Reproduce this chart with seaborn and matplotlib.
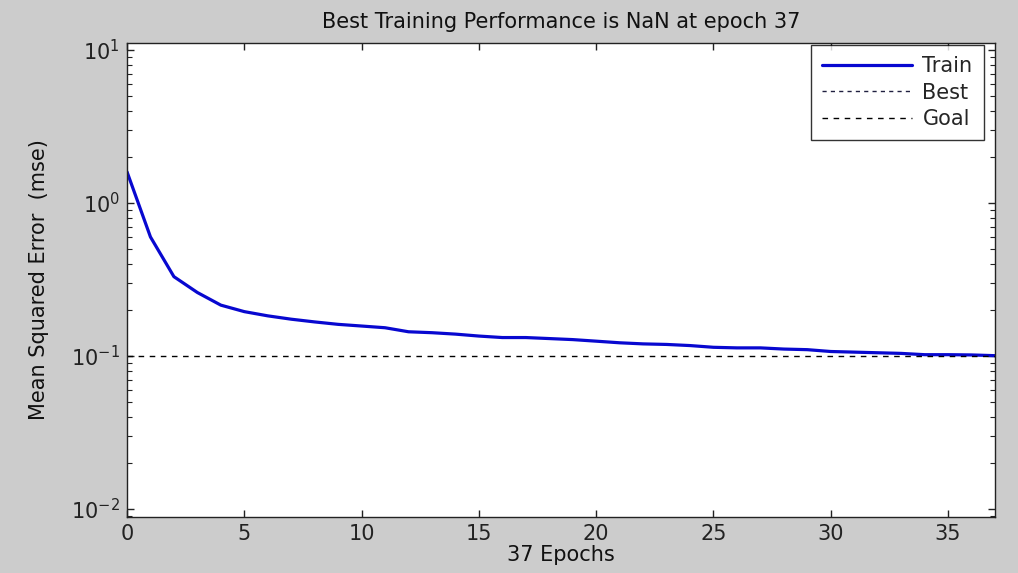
import numpy as np
import pandas as pd
import matplotlib
matplotlib.use("Agg")
import matplotlib.pyplot as plt
import seaborn as sns
from matplotlib.ticker import LogLocator, LogFormatterSciNotation, FixedLocator

# ---- data ----
epochs = list(range(0, 38))
train_mse = [1.60, 0.60, 0.33, 0.26, 0.215, 0.195, 0.183, 0.174, 0.167, 0.161,
             0.157, 0.153, 0.144, 0.142, 0.139, 0.135, 0.132, 0.132, 0.130, 0.128,
             0.125, 0.122, 0.120, 0.119, 0.117, 0.114, 0.113, 0.113, 0.111, 0.110,
             0.107, 0.106, 0.105, 0.104, 0.102, 0.102, 0.1016, 0.1005]
goal_value = 0.1
best_value = np.nan
title_text = "Best Training Performance is NaN at epoch 37"
xlabel_text = "37 Epochs"
ylabel_text = "Mean Squared Error  (mse)"
xticks = [0, 5, 10, 15, 20, 25, 30, 35]

sns.set_style("ticks")
plt.rcParams['font.family'] = ['DejaVu Sans']
plt.rcParams['mathtext.fontset'] = 'dejavusans'

FS = 15
bg = '#cccccc'
fig = plt.figure(figsize=(10.18, 5.73), dpi=100, facecolor=bg)
ax = fig.add_axes([127/1018, 1-517/573, (995-127)/1018, (517-43)/573])
ax.set_facecolor('white')

df = pd.DataFrame({"epoch": epochs, "mse": train_mse})
sns.lineplot(data=df, x="epoch", y="mse", ax=ax, color='#0808d0', linewidth=2.3,
             label="Train")
ax.plot([epochs[0], epochs[-1]], [best_value, best_value], linestyle='--',
        color='#202040', linewidth=1.0, dashes=(3, 3), label="Best")
ax.plot([epochs[0], epochs[-1]], [goal_value, goal_value], linestyle='--',
        color='black', linewidth=1.0, dashes=(4, 4), label="Goal")

ax.set_yscale('log')
ax.set_xlim(0, 37)
ax.set_ylim(10**(-2 - 8/153), 10**(1 + 7/153))
ax.xaxis.set_major_locator(FixedLocator(xticks))
ax.yaxis.set_major_locator(LogLocator(base=10, numticks=10))
ax.yaxis.set_minor_locator(LogLocator(base=10, subs=np.arange(2, 10), numticks=20))
ax.yaxis.set_major_formatter(LogFormatterSciNotation())

for s in ax.spines.values():
    s.set_visible(True)
    s.set_color('#222222')
    s.set_linewidth(1.0)

ax.tick_params(axis='both', which='major', direction='in', length=5, width=1,
               top=True, right=True, labelsize=FS, colors='#222222', pad=5)
ax.tick_params(axis='y', which='minor', direction='in', length=3.5, width=0.8,
               left=True, right=True, colors='#222222')
ax.tick_params(axis='x', which='minor', bottom=False, top=False)

ax.set_title(title_text, fontsize=FS, color='#111111', pad=11)
ax.set_xlabel(xlabel_text, fontsize=FS, color='#111111', labelpad=1)
ax.set_ylabel(ylabel_text, fontsize=FS, color='#111111', labelpad=16)

leg = ax.legend(loc='upper right', bbox_to_anchor=(1 - 11/868, 1 - 2/474),
                frameon=True, fancybox=False, fontsize=FS, borderaxespad=0,
                handlelength=4.3, handletextpad=0.5, borderpad=0.55,
                labelspacing=0.3, markerfirst=True)
leg.get_frame().set_edgecolor('black')
leg.get_frame().set_linewidth(1.0)
for t in leg.get_texts():
    t.set_ha('right')
leg._legend_box.align = 'right'

fig.savefig("out.png", dpi=100, facecolor=bg)
